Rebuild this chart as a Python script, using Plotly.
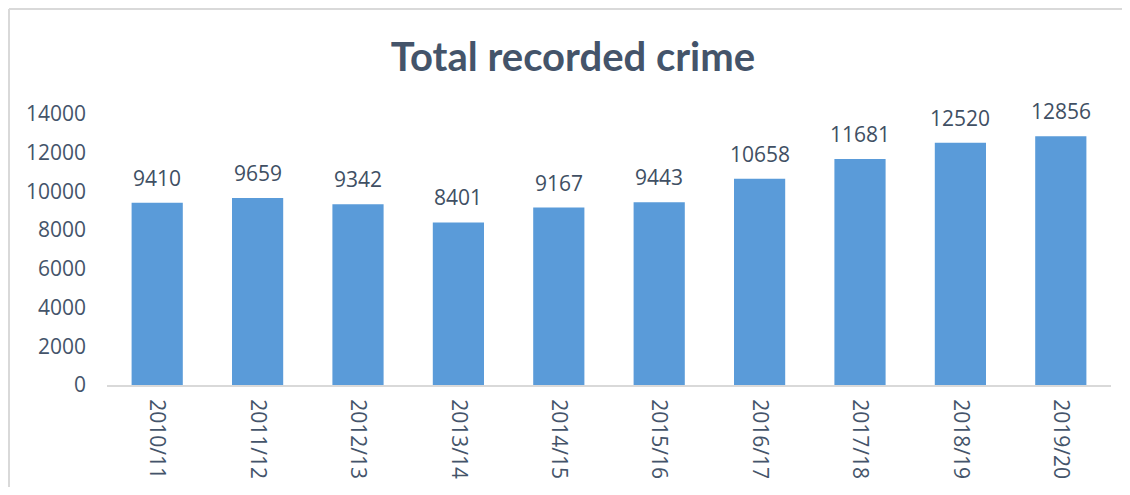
import plotly.graph_objects as go

years = ["2010/11", "2011/12", "2012/13", "2013/14", "2014/15",
         "2015/16", "2016/17", "2017/18", "2018/19", "2019/20"]
crimes = [9410, 9659, 9342, 8401, 9167, 9443, 10658, 11681, 12520, 12856]
y_ticks = [0, 2000, 4000, 6000, 8000, 10000, 12000, 14000]

# page body has an 8px margin; figure coordinates = screen - 8
W, H = 1114, 479
L, R, T, B = 99, 1103, 106, 377
pw, ph = R - L, B - T

txt = "#44546A"
fnt = "Open Sans"
border = "#D9D9D9"

fig = go.Figure(go.Bar(
    x=years, y=crimes,
    marker=dict(color="#5A9BD9", line=dict(width=0)),
    width=0.51, hoverinfo="x+y",
))

for yr, v in zip(years, crimes):
    fig.add_annotation(x=yr, y=v, text=str(v), showarrow=False,
                       yanchor="bottom", yshift=9,
                       font=dict(family=fnt, size=21, color="#404F63"))

fig.update_layout(
    width=W, height=H,
    margin=dict(l=L, r=W - R, t=T, b=H - B, autoexpand=False),
    paper_bgcolor="white", plot_bgcolor="white",
    showlegend=False,
    title=dict(text="<b>Total recorded crime</b>", x=565 / W,
               xanchor="center", xref="container",
               y=1 - 49 / H, yanchor="middle",
               font=dict(family="Lato", size=40, color=txt)),
    xaxis=dict(showgrid=False, showline=True, linecolor=border, linewidth=2,
               ticks="", tickangle=90, ticklabelstandoff=8,
               tickfont=dict(family=fnt, size=21, color=txt)),
    yaxis=dict(range=[0, 14000], tickvals=y_ticks, tickformat="d",
               showgrid=False, zeroline=False,
               showline=False, ticks="", ticklabelstandoff=20,
               tickfont=dict(family=fnt, size=21, color=txt)),
    shapes=[
        dict(type="line", xref="paper", yref="paper",
             x0=(1 - L) / pw, x1=(1 - L) / pw,
             y0=(B - H) / ph, y1=(B - 1) / ph,
             line=dict(color=border, width=2), layer="below"),
        dict(type="line", xref="paper", yref="paper",
             x0=(1 - L) / pw, x1=(W - L) / pw,
             y0=(B - 1) / ph, y1=(B - 1) / ph,
             line=dict(color=border, width=2), layer="below"),
    ],
)

fig.write_html("out.html")
